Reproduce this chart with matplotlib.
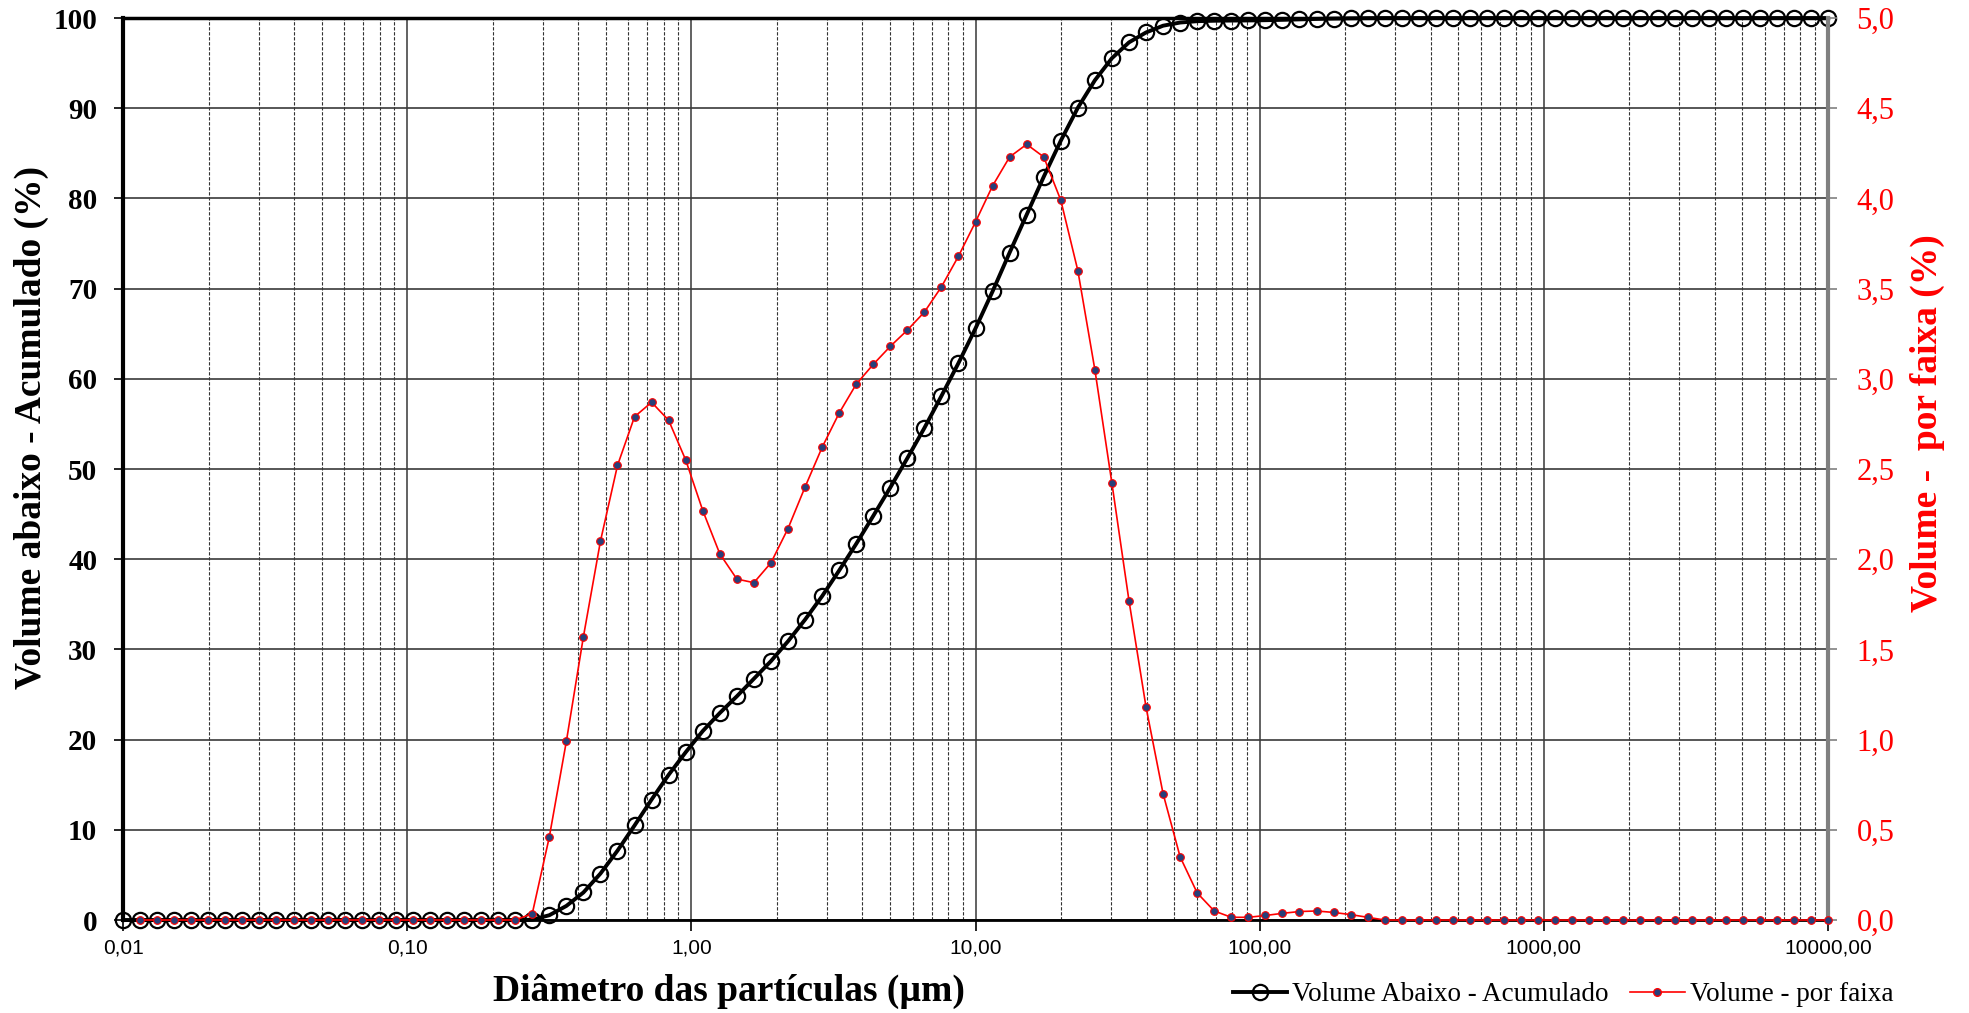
import matplotlib
matplotlib.use("Agg")
import matplotlib.pyplot as plt
from matplotlib.ticker import FixedLocator, NullFormatter, LogLocator
from matplotlib.lines import Line2D

# Malvern size classes (um), 101 edges from 0.01 to 10000
sizes = [
    0.010, 0.01148, 0.01318, 0.01514, 0.01738, 0.01995, 0.02291, 0.02630, 0.03020, 0.03467,
    0.03981, 0.04571, 0.05248, 0.06026, 0.06918, 0.07943, 0.09120, 0.10471, 0.12023, 0.13804,
    0.15849, 0.18197, 0.20893, 0.23988, 0.27542, 0.31623, 0.36308, 0.41687, 0.47863, 0.54954,
    0.63096, 0.72444, 0.83176, 0.95499, 1.09648, 1.25893, 1.44544, 1.65959, 1.90546, 2.18776,
    2.51189, 2.88403, 3.31131, 3.80189, 4.36516, 5.01187, 5.75440, 6.60693, 7.58578, 8.70964,
    10.000, 11.482, 13.183, 15.136, 17.378, 19.953, 22.909, 26.303, 30.200, 34.674,
    39.811, 45.709, 52.481, 60.256, 69.183, 79.433, 91.201, 104.713, 120.226, 138.038,
    158.489, 181.970, 208.930, 239.883, 275.423, 316.228, 363.078, 416.869, 478.630, 549.541,
    630.957, 724.436, 831.764, 954.993, 1096.478, 1258.925, 1445.440, 1659.587, 1905.461, 2187.762,
    2511.886, 2884.032, 3311.311, 3801.894, 4365.158, 5011.872, 5754.399, 6606.934, 7585.776, 8709.636,
    10000.000,
]

# cumulative volume below (%) at every size edge
cumulative = [0.0] * 24 + [
    0.03, 0.53, 1.56, 3.05, 5.15, 7.69, 10.48, 13.36, 16.1, 18.6,
    20.95, 22.95, 24.8, 26.75, 28.7, 30.9, 33.3, 35.9, 38.75, 41.7,
    44.8, 47.95, 51.2, 54.55, 58.1, 61.75, 65.6, 69.7, 74.0, 78.2,
    82.4, 86.4, 90.05, 93.1, 95.55, 97.3, 98.4, 99.15, 99.5, 99.65,
    99.7, 99.72, 99.73, 99.76, 99.8, 99.85, 99.9, 99.94, 99.97, 99.99,
] + [100.0] * 27

# volume per size class (%), plotted at upper edge of each class
per_class = [0.0] * 23 + [
    0.035, 0.46, 0.99, 1.57, 2.10, 2.52, 2.79, 2.87, 2.77, 2.55,
    2.27, 2.03, 1.89, 1.87, 1.98, 2.17, 2.40, 2.62, 2.81, 2.97,
    3.08, 3.18, 3.27, 3.37, 3.51, 3.68, 3.87, 4.07, 4.23, 4.30,
    4.23, 3.99, 3.60, 3.05, 2.42, 1.77, 1.18, 0.70, 0.35, 0.15,
    0.05, 0.015, 0.015, 0.025, 0.037, 0.047, 0.05, 0.042, 0.03, 0.015,
] + [0.0] * 27

x_ticks = [0.01, 0.1, 1, 10, 100, 1000, 10000]
x_labels = ["0,01", "0,10", "1,00", "10,00", "100,00", "1000,00", "10000,00"]
left_ticks = list(range(0, 101, 10))
right_ticks = [0.0, 0.5, 1.0, 1.5, 2.0, 2.5, 3.0, 3.5, 4.0, 4.5, 5.0]

serif = "Liberation Serif"
sans = "Liberation Sans"

fig = plt.figure(figsize=(19.69, 10.13), dpi=100)
ax = fig.add_axes([0.0625, 0.0918, 0.8659, 0.8904])
ax2 = ax.twinx()

# cumulative curve
ax.plot(sizes, cumulative, color="black", lw=2.8, marker="o", markersize=11,
        markerfacecolor="none", markeredgecolor="black", markeredgewidth=1.6,
        clip_on=False, zorder=3)

# per-class curve on the right axis
ax2.plot(sizes[1:], per_class, color="red", lw=1.2, marker="o", markersize=5.5,
         markerfacecolor="#26407a", markeredgecolor="red", markeredgewidth=0.8,
         clip_on=False, zorder=4)

ax.set_xscale("log")
ax.set_xlim(0.01, 10000)
ax.set_ylim(0, 100)
ax2.set_ylim(0, 5)

ax.xaxis.set_major_locator(FixedLocator(x_ticks))
ax.set_xticklabels(x_labels, fontfamily=sans, fontsize=15)
ax.xaxis.set_minor_locator(LogLocator(base=10, subs=range(2, 10), numticks=20))
ax.xaxis.set_minor_formatter(NullFormatter())

ax.set_yticks(left_ticks)
ax.set_yticklabels([str(v) for v in left_ticks], fontfamily=serif,
                   fontweight="bold", fontsize=21)
ax2.set_yticks(right_ticks)
ax2.set_yticklabels([f"{v:.1f}".replace(".", ",") for v in right_ticks],
                    fontfamily=serif, fontsize=22, color="red")

ax.tick_params(axis="x", which="major", length=8, width=1.2, pad=5, direction="out")
ax.tick_params(axis="x", which="minor", length=0)
ax.tick_params(axis="y", length=6.5, width=1.2, pad=12, direction="out")
ax2.tick_params(axis="y", length=6.5, width=1.2, pad=14, direction="out", color="#808080")

# grid lines
ax.grid(True, which="major", axis="y", color="#3a3a3a", lw=1.2, ls="-")
ax.grid(True, which="major", axis="x", color="#555555", lw=1.3, ls="-")
ax.grid(True, which="minor", axis="x", color="#333333", lw=0.8, ls=(0, (3, 1.5)))
ax.set_axisbelow(True)

for side in ["left", "top", "bottom", "right"]:
    ax2.spines[side].set_visible(False)
ax.spines["left"].set_linewidth(3)
ax.spines["left"].set_color("black")
ax.spines["top"].set_linewidth(2.5)
ax.spines["bottom"].set_linewidth(2)
ax.spines["right"].set_visible(False)
ax2.spines["right"].set_visible(True)
ax2.spines["right"].set_linewidth(3)
ax2.spines["right"].set_color("#808080")

# axis titles
fig.text(0.37, 0.021, "Diâmetro das partículas (µm)", fontfamily=serif,
         fontweight="bold", fontsize=27, ha="center", va="center")
fig.text(0.016, 0.578, "Volume abaixo - Acumulado (%)", fontfamily=serif,
         fontweight="bold", fontsize=27, rotation=90, ha="center", va="center")
fig.text(0.979, 0.582, "Volume -  por faixa (%)", fontfamily=serif,
         fontweight="bold", fontsize=27, rotation=90, ha="center", va="center",
         color="red")

# legend
handles = [
    Line2D([], [], color="black", lw=2.8, marker="o", markersize=11,
           markerfacecolor="none", markeredgewidth=1.6),
    Line2D([], [], color="red", lw=1.2, marker="o", markersize=5.5,
           markerfacecolor="#26407a", markeredgecolor="red"),
]
fig.legend(handles, ["Volume Abaixo - Acumulado", "Volume - por faixa"],
           loc="center left", bbox_to_anchor=(0.626, 0.018), ncol=2,
           frameon=False, prop={"family": serif, "size": 19.5},
           handlelength=2.0, handletextpad=0.2, columnspacing=0.8,
           borderpad=0, borderaxespad=0)

fig.savefig("out.png", dpi=100)
